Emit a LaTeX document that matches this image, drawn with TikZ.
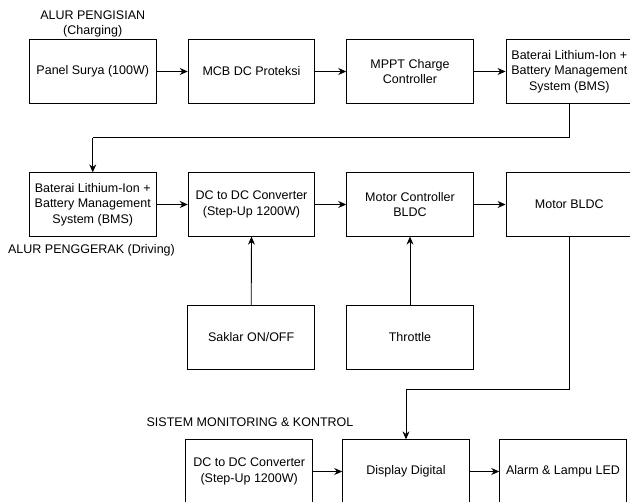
\documentclass[tikz,border=0pt]{standalone}
\usepackage{fontspec}
\setmainfont{Liberation Sans}
\usetikzlibrary{arrows.meta}
\begin{document}
\begin{tikzpicture}[x=1pt,y=-1pt,
  blk/.style={draw=black,line width=0.9pt,minimum width=126.6pt,minimum height=63.4pt,inner sep=0pt,align=center,font=\fontsize{12.5}{15.3}\selectfont},
  lbl/.style={align=center,font=\fontsize{12.5}{15.3}\selectfont,inner sep=0pt},
  arr/.style={draw=black,line width=0.9pt,-{Stealth[length=8pt,width=7pt]}},
  ln/.style={draw=black,line width=0.9pt}]
\useasboundingbox (0,0) rectangle (630,502);
\clip (0,0) rectangle (630,502);
% row 1
\node[blk] (pv) at (92.75,71.5) {Panel Surya (100W)};
\node[blk] (mcb) at (251.5,71.5) {MCB DC Proteksi};
\node[blk] (mppt) at (410,71.5) {MPPT Charge\\Controller};
\node[blk] (bat1) at (569.3,71.5) {Baterai Lithium-Ion +\\Battery Management\\System (BMS)};
\node[lbl] (t1) at (92.7,24) {ALUR PENGISIAN\\(Charging)};
% row 2
\node[blk] (bat2) at (92.75,204.5) {Baterai Lithium-Ion +\\Battery Management\\System (BMS)};
\node[blk] (dc1) at (251.5,204.5) {DC to DC Converter\\(Step-Up 1200W)};
\node[blk] (mc) at (410,204.5) {Motor Controller\\BLDC};
\node[blk] (mot) at (569.3,204.5) {Motor BLDC};
\node[lbl] (t2) at (91.5,250) {ALUR PENGGERAK (Driving)};
% row 3
\node[blk] (sw) at (251.2,337.5) {Saklar ON/OFF};
\node[blk] (thr) at (410,337.5) {Throttle};
% row 4
\node[blk] (dc2) at (249.2,471.5) {DC to DC Converter\\(Step-Up 1200W)};
\node[blk] (disp) at (406,471.5) {Display Digital};
\node[blk] (alarm) at (563,471.5) {Alarm \& Lampu LED};
\node[lbl] (t3) at (250,422) {SISTEM MONITORING \& KONTROL};
% connectors
\coordinate (c1) at (569.3,137.7);
\coordinate (c2) at (92.75,137.7);
\coordinate (c3) at (569.3,389);
\coordinate (c4) at (406,389);
\draw[arr] (pv) -- (mcb);
\draw[arr] (mcb) -- (mppt);
\draw[arr] (mppt) -- (bat1);
\draw[ln] (bat1.south) -- (c1) -- (c2);
\draw[arr] (c2) -- (bat2.north);
\draw[arr] (bat2) -- (dc1);
\draw[arr] (dc1) -- (mc);
\draw[arr] (mc) -- (mot);
\draw[arr] (sw.north) -- (dc1.south);
\draw[arr] (thr.north) -- (mc.south);
\draw[ln] (mot.south) -- (c3) -- (c4);
\draw[arr] (c4) -- (disp.north);
\draw[arr] (dc2) -- (disp);
\draw[arr] (disp) -- (alarm);
\end{tikzpicture}
\end{document}
